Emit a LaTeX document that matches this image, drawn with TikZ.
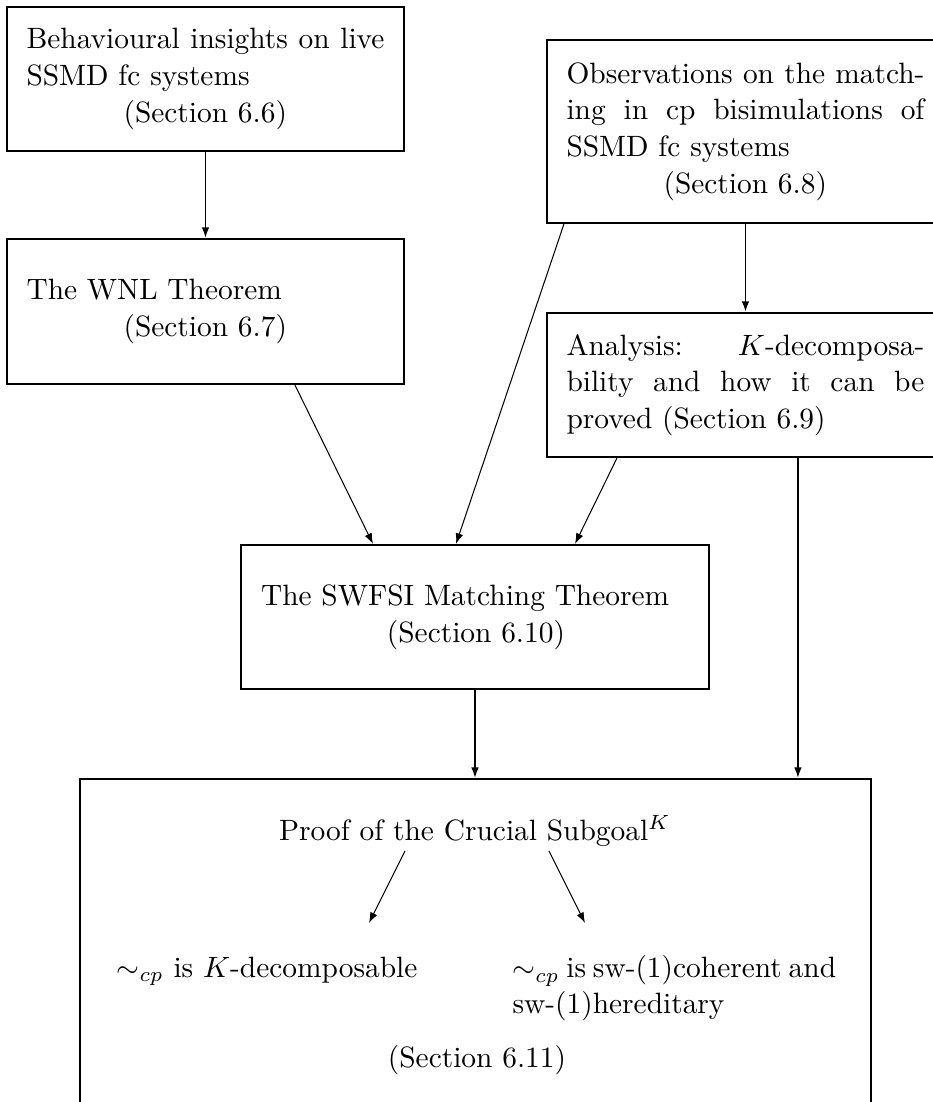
\documentclass[tikz,border=0pt]{standalone}
\usetikzlibrary{arrows.meta,calc}
\tikzset{
  box/.style={draw, line width=0.7pt, inner xsep=0pt, inner ysep=0pt, align=justify,
    execute at begin node={\setlength{\baselineskip}{12.5pt}}},
  link/.style={-{Latex[length=3.6pt,width=2.6pt]}, line width=0.6pt},
  thinlink/.style={-{Latex[length=3.6pt,width=2.6pt]}, line width=0.35pt},
}
\begin{document}
\begin{tikzpicture}[x=0.34pt,y=-0.34pt]
\clip (0,0) rectangle (933,1102);

% upper-left column
\node[box, text width=121.7pt, minimum width=135pt, minimum height=49pt] (A) at (205.5,79)
  {Behavioural insights on live\linebreak SSMD fc systems\\\hspace*{33pt}(Section 6.6)};
\node[box, text width=121.7pt, minimum width=135pt, minimum height=49.3pt] (C) at (205.5,311.5)
  {The WNL Theorem\\\hspace*{33pt}(Section 6.7)};

% upper-right column
\node[box, text width=121.7pt, minimum width=135pt, minimum height=62.2pt] (B) at (745.5,131.5)
  {Observations on the match-\linebreak ing in cp bisimulations of\linebreak SSMD fc systems\\\hspace*{33pt}(Section 6.8)};
\node[box, text width=121.7pt, minimum width=135pt, minimum height=49pt] (D) at (745.5,385)
  {Analysis: $K$-decomposa-\linebreak bility and how it can be\linebreak proved (Section 6.9)};

% middle
\node[box, text width=145.5pt, minimum width=159.1pt, minimum height=49pt] (E) at (475,617)
  {The SWFSI Matching Theorem\\\hspace*{42.8pt}(Section 6.10)};

% lower frame and its contents
\node[box, minimum width=268.9pt, minimum height=122.7pt] (F) at (475.5,959.5) {};
\node[anchor=base, inner sep=0pt] (goal) at (475,840) {Proof of the Crucial Subgoal$^K$};
\node[anchor=base east, inner sep=0pt] (kdec) at (418,977) {$\sim_{cp}$ is $K$-decomposable};
\node[anchor=north west, inner sep=0pt, text width=110pt, align=justify,
  execute at begin node={\setlength{\baselineskip}{12.3pt}}] (coh) at (512,955)
  {$\sim_{cp}$ is sw-(1)coherent and\linebreak sw-(1)hereditary};
\node[anchor=base, inner sep=0pt] (sec) at (477,1067) {(Section 6.11)};

% connectors
\draw[link] (A.south) -- (C.north);
\draw[link] (B.south) -- (D.north);
\draw[thinlink] ($(C.south west)+(289,0)$) -- ($(E.north west)+(133,0)$);
\draw[thinlink] ($(B.south west)+(18,0)$) -- ($(E.north west)+(216,0)$);
\draw[thinlink] ($(D.south west)+(71,0)$) -- ($(E.north west)+(335,0)$);
\draw[link] (E.south) -- (E.south |- F.north);
\coordinate (dF) at ($(D.south west)+(252,0)$);
\draw[link] (dF) -- (dF |- F.north);
\draw[thinlink] ($(goal.base)+(-70,11)$) -- ($(kdec.base east)+(-49,-54)$);
\draw[thinlink] ($(goal.base)+(74,11)$) -- ($(coh.north west)+(73,-32)$);
\end{tikzpicture}
\end{document}
